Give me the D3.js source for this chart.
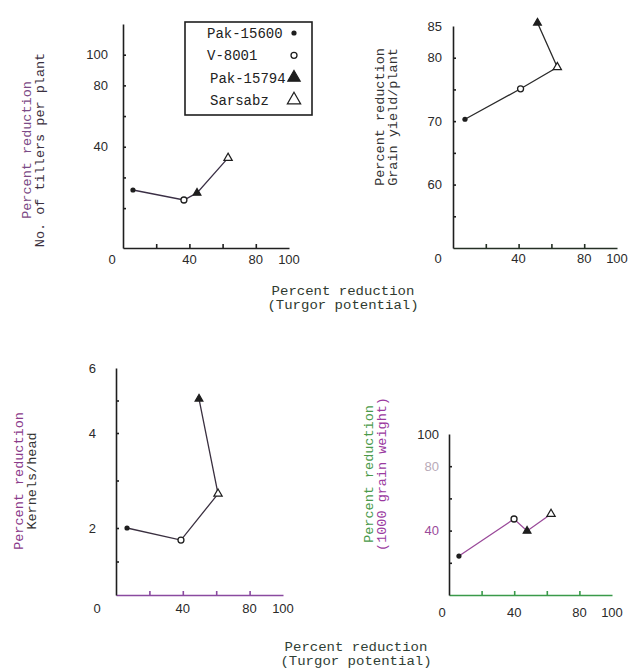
<!DOCTYPE html>
<html>
<head>
<meta charset="utf-8">
<script src="https://cdn.jsdelivr.net/npm/d3@7"></script>
<style>
  body { margin: 0; background: #fff; }
  text { font-family: "Liberation Mono", "DejaVu Sans Mono", monospace; }
  .num { font-family: "Liberation Sans", Arial, sans-serif; font-size: 13px; }
</style>
</head>
<body>
<div id="chart"></div>
<script>
const varieties = ["Pak-15600", "V-8001", "Pak-15794", "Sarsabz"];
const markers = ["dot", "circle", "filledTriangle", "openTriangle"];

// x = percent reduction in turgor potential, y = percent reduction of the trait
const tillersTurgor = [6.0, 36.7, 44.6, 63.3];
const tillersReduction = [11.8, 5.3, 9.9, 32.7];
const yieldTurgor = [7.3, 41.2, 51.5, 63.6];
const yieldReduction = [70.3, 75.1, 85.5, 78.5];
const kernelTurgor = [6.6, 38.9, 49.7, 61.1];
const kernelReduction = [2.0, 1.64, 5.05, 2.72];
const grainTurgor = [6.1, 39.9, 47.9, 62.6];
const grainReduction = [24.2, 47.2, 39.8, 50.3];

// order in which the points are joined
const tillersOrder = [0, 1, 2, 3];
const yieldOrder = [0, 1, 3, 2];
const kernelOrder = [0, 1, 3, 2];
const grainOrder = [0, 1, 2, 3];

const xTickLabels = [0, 40, 80, 100];
const xMinorTicks = [20, 40, 60, 80];
const tillersTicks = [100, 80, 40];
const yieldTicks = [85, 80, 70, 60];
const kernelTicks = [6, 4, 2];
const grainTicks = [100, 80, 40];

const width = 636;
const height = 670;

const svg = d3.select("#chart")
    .append("svg")
    .attr("width", width)
    .attr("height", height);

svg.append("rect").attr("width", width).attr("height", height).attr("fill", "#fff");

const panels = [
    {
        turgor: tillersTurgor, reduction: tillersReduction, order: tillersOrder,
        labels: tillersTicks, minor: [100, 80, 60, 40, 20, 0],
        xRange: [123, 289], yDomain: [-26, 120], yRange: [248, 24],
        labelGap: 15, xLabelDy: 16, zeroShift: -11,
        title: ["Percent reduction", "No. of tillers per plant"],
        titleX: [31, 44], titleY: 150, titleColors: ["#7b4a86", "#3a3040"],
        xAxisColor: "#202020", lineColor: "#3a2f45"
    },
    {
        turgor: yieldTurgor, reduction: yieldReduction, order: yieldOrder,
        labels: yieldTicks, minor: [80, 75, 70, 65, 60, 55],
        xRange: [453, 617], yDomain: [50, 85], yRange: [248, 26],
        labelGap: 11, xLabelDy: 15, zeroShift: -15,
        title: ["Percent reduction", "Grain yield/plant"],
        titleX: [384, 397], titleY: 117, titleColors: ["#333", "#333"],
        xAxisColor: "#253025", lineColor: "#2a2a2a"
    },
    {
        turgor: kernelTurgor, reduction: kernelReduction, order: kernelOrder,
        labels: kernelTicks, minor: [1, 2, 3, 4, 5],
        xRange: [116, 283], yDomain: [0, 2, 4, 6], yRange: [595, 528, 433, 368],
        labelGap: 20, xLabelDy: 18, zeroShift: -19,
        title: ["Percent reduction", "Kernels/head"],
        titleX: [23, 36], titleY: 481, titleColors: ["#8a3a8a", "#333"],
        xAxisColor: "#8a4aa0", lineColor: "#3a3040"
    },
    {
        turgor: grainTurgor, reduction: grainReduction, order: grainOrder,
        labels: grainTicks, minor: [80, 60, 40, 20],
        xRange: [449, 612], yDomain: [0, 100], yRange: [595, 434],
        labelGap: 10, xLabelDy: 22, zeroShift: -7,
        title: ["Percent reduction", "(1000 grain weight)"],
        titleX: [373, 386], titleY: 474, titleColors: ["#4a9a4a", "#9a3aa0"],
        xAxisColor: "#3a9a4a", lineColor: "#9a4a9a",
        labelColors: ["#2a2a2a", "#b8aab8", "#9a4a9a"]
    }
];

function drawMarker(g, kind, cx, cy, big) {
    const k = big ? 1.6 : 1;
    if (kind === "dot") {
        g.append("circle").attr("cx", cx).attr("cy", cy).attr("r", 2.6)
            .attr("fill", "#1e1e1e");
    } else if (kind === "circle") {
        g.append("circle").attr("cx", cx).attr("cy", cy).attr("r", 3)
            .attr("fill", "#fff").attr("stroke", "#1e1e1e").attr("stroke-width", 1.3);
    } else {
        const filled = kind === "filledTriangle";
        g.append("path")
            .attr("d", d3.symbol(d3.symbolTriangle, (filled ? 26 : 30) * k * k)())
            .attr("transform", `translate(${cx},${cy})`)
            .attr("fill", filled ? "#1e1e1e" : "#fff")
            .attr("stroke", "#1e1e1e")
            .attr("stroke-width", 1.2);
    }
}

panels.forEach(p => {
    const g = svg.append("g");
    const x = d3.scaleLinear().domain([0, 100]).range(p.xRange);
    const y = d3.scaleLinear().domain(p.yDomain).range(p.yRange);
    const x0 = p.xRange[0];
    const yBottom = p.yRange[0];

    g.append("g")
        .attr("transform", `translate(0,${yBottom})`)
        .call(d3.axisBottom(x).tickValues(xMinorTicks).tickSizeInner(-4).tickSizeOuter(0).tickFormat(""))
        .call(a => a.selectAll("path, line").attr("stroke", p.xAxisColor).attr("stroke-width", 1.6));

    g.append("g")
        .attr("transform", `translate(${x0},0)`)
        .call(d3.axisLeft(y).tickValues(p.minor).tickSizeInner(-3).tickSizeOuter(0).tickFormat(""))
        .call(a => a.selectAll("path, line").attr("stroke", "#1e1e1e").attr("stroke-width", 1.6));

    g.selectAll(".ylab")
        .data(p.labels)
        .enter()
        .append("text")
        .attr("class", "num")
        .attr("x", x0 - p.labelGap)
        .attr("y", d => y(d))
        .attr("dy", "0.35em")
        .attr("text-anchor", "end")
        .attr("fill", (d, i) => p.labelColors ? p.labelColors[i] : "#2a2a2a")
        .text(d => d);

    g.selectAll(".xlab")
        .data(xTickLabels)
        .enter()
        .append("text")
        .attr("class", "num")
        .attr("x", d => x(d) + (d === 0 ? p.zeroShift : 0))
        .attr("y", yBottom + p.xLabelDy)
        .attr("text-anchor", "middle")
        .attr("fill", "#2a2a2a")
        .text(d => d);

    p.title.forEach((t, i) => {
        g.append("text")
            .attr("transform", `translate(${p.titleX[i]},${p.titleY}) rotate(-90)`)
            .attr("text-anchor", "middle")
            .attr("font-size", 13.5)
            .attr("fill", p.titleColors[i])
            .text(t);
    });

    const pts = p.order.map(i => ({ tx: p.turgor[i], r: p.reduction[i] }));
    g.append("path")
        .datum(pts)
        .attr("fill", "none")
        .attr("stroke", p.lineColor)
        .attr("stroke-width", 1.3)
        .attr("d", d3.line().x(d => x(d.tx)).y(d => y(d.r)));

    varieties.forEach((v, i) => {
        drawMarker(g, markers[i], x(p.turgor[i]), y(p.reduction[i]), false);
    });
});

// shared x-axis titles (typewriter text, wide and short)
const xTitles = [
    { lines: ["Percent reduction", "(Turgor potential)"], cx: 343, y: [295, 309], color: "#2f3a2f" },
    { lines: ["Percent reduction", "(Turgor potential)"], cx: 356, y: [651, 665], color: "#2f4035" }
];
xTitles.forEach(t => {
    t.lines.forEach((line, i) => {
        svg.append("text")
            .attr("x", t.cx)
            .attr("y", t.y[i])
            .attr("text-anchor", "middle")
            .attr("font-size", 12)
            .attr("textLength", line.length * 8.4)
            .attr("lengthAdjust", "spacingAndGlyphs")
            .attr("fill", t.color)
            .text(line);
    });
});

// legend
const legend = svg.append("g");
legend.append("rect")
    .attr("x", 185).attr("y", 22)
    .attr("width", 127).attr("height", 93)
    .attr("fill", "#fff")
    .attr("stroke", "#1e1e1e")
    .attr("stroke-width", 1.6);

const legendY = d3.scalePoint().domain(varieties).range([33, 100]);
varieties.forEach((v, i) => {
    legend.append("text")
        .attr("x", i >= 2 ? 210 : 207)
        .attr("y", legendY(v))
        .attr("dy", "0.35em")
        .attr("font-size", 14)
        .attr("fill", "#222")
        .text(v);
    drawMarker(legend, markers[i], 294, legendY(v), true);
});
</script>
</body>
</html>
